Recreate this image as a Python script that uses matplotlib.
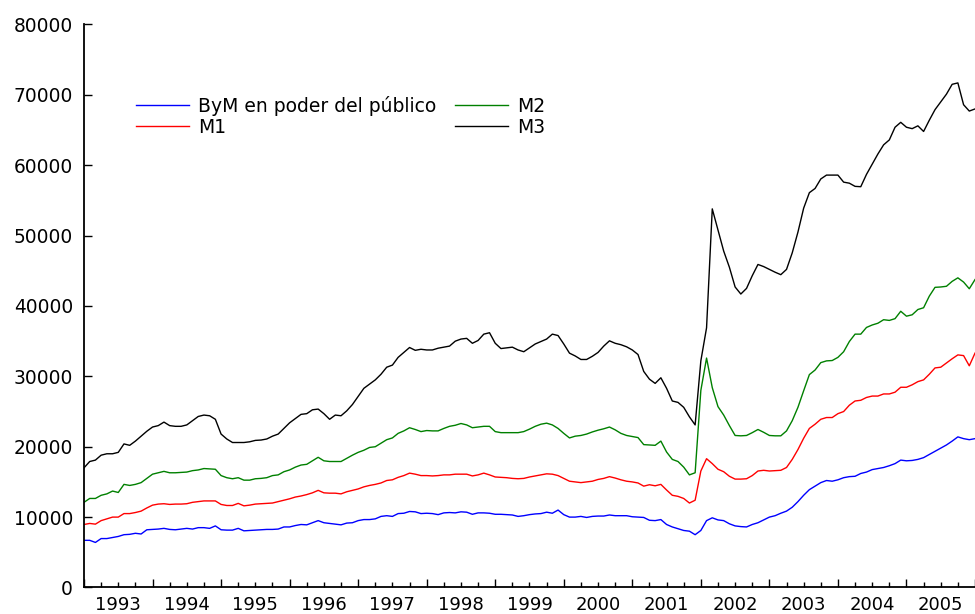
import numpy as np
import matplotlib
matplotlib.use("Agg")
import matplotlib.pyplot as plt

# Monthly series, thousands, Jan 1993 .. Jan 2006
start_year = 1993
bym = [6.7, 6.7, 6.4, 6.95, 6.95, 7.1, 7.25, 7.5, 7.55, 7.7, 7.6, 8.2, 8.25, 8.3, 8.4, 8.25, 8.2, 8.3, 8.4, 8.3,
       8.5, 8.5, 8.4, 8.75, 8.2, 8.15, 8.15, 8.4, 8.05, 8.1, 8.15, 8.2, 8.25, 8.25, 8.3, 8.6, 8.6, 8.8, 8.95,
       8.9, 9.2, 9.5, 9.2, 9.1, 9.0, 8.9, 9.15, 9.2, 9.5, 9.65, 9.65, 9.75, 10.1, 10.2, 10.1, 10.5, 10.55,
       10.8, 10.75, 10.5, 10.55, 10.5, 10.35, 10.6, 10.65, 10.6, 10.75, 10.7, 10.4, 10.6, 10.6, 10.55, 10.4,
       10.4, 10.35, 10.3, 10.1,
       10.2, 10.35, 10.45, 10.5, 10.7, 10.55, 11.0, 10.35, 10.0, 10.0, 10.1, 9.95, 10.1, 10.15, 10.15, 10.3,
       10.2, 10.2, 10.2, 10.05, 10.0, 9.95, 9.55, 9.5, 9.65, 8.95, 8.6, 8.35, 8.1, 8.0, 7.5,
       8.1, 9.5, 9.9, 9.6, 9.5, 9.05, 8.75, 8.65, 8.6, 8.95, 9.2, 9.6, 10.0, 10.2, 10.55, 10.85, 11.4, 12.2,
       13.1, 13.9, 14.4, 14.9, 15.2,
       15.1, 15.3, 15.6, 15.75, 15.8, 16.2, 16.4, 16.75, 16.9, 17.05, 17.3, 17.6, 18.1, 18.0, 18.05, 18.2,
       18.45, 18.9, 19.35, 19.8, 20.25, 20.8, 21.4, 21.15, 21.0, 21.15]

m1 = [8.95, 9.1, 9.0, 9.5, 9.75, 10.0, 10.0, 10.5, 10.5, 10.65, 10.85, 11.3, 11.7, 11.85, 11.9, 11.8, 11.85,
      11.85, 11.9, 12.1, 12.2, 12.3, 12.3, 12.3, 11.8, 11.65, 11.65, 11.95, 11.6, 11.7, 11.85, 11.9, 11.95,
      12.0, 12.2, 12.4, 12.6, 12.85, 13.0,
      13.2, 13.45, 13.8, 13.45, 13.4, 13.4, 13.3, 13.6, 13.8, 14.0, 14.3, 14.5, 14.65, 14.85, 15.2,
      15.3, 15.65, 15.9, 16.25, 16.1, 15.9, 15.9, 15.85, 15.9, 16.0, 16.0, 16.1, 16.1, 16.1, 15.85, 16.0,
      16.25, 16.0, 15.7, 15.65, 15.6, 15.5, 15.45,
      15.5, 15.7, 15.85, 16.0, 16.15, 16.1, 15.9, 15.5, 15.1, 15.0, 14.9, 15.0, 15.1, 15.35, 15.5, 15.75,
      15.55, 15.3, 15.1, 15.0, 14.85, 14.4, 14.6, 14.45, 14.65, 13.85, 13.1, 12.95, 12.65, 12.0, 12.4, 16.55,
      18.3, 17.6, 16.8, 16.45, 15.8, 15.4, 15.4,
      15.45, 15.9, 16.55, 16.65, 16.55, 16.6, 16.65, 17.05, 18.2, 19.6, 21.2, 22.6, 23.2, 23.9, 24.15, 24.15,
      24.7, 25.0, 25.9, 26.5, 26.6, 27.0, 27.2, 27.2, 27.5, 27.5, 27.75, 28.45, 28.45, 28.8, 29.25, 29.5,
      30.3, 31.2, 31.3, 31.9, 32.5, 33.05, 32.95, 31.5, 33.3]

m2 = [12.1, 12.65, 12.65, 13.1, 13.3, 13.7, 13.5, 14.65, 14.5, 14.65, 14.9, 15.5, 16.1, 16.3, 16.5, 16.3,
      16.3, 16.35, 16.4, 16.6, 16.7, 16.9, 16.85, 16.8, 15.9, 15.6, 15.45, 15.6, 15.25, 15.25, 15.45, 15.5,
      15.6, 15.9, 16.0, 16.45, 16.7, 17.1, 17.4,
      17.5, 18.0, 18.5, 18.0, 17.9, 17.9, 17.9, 18.35, 18.8, 19.2, 19.5, 19.9, 20.0, 20.5, 21.0, 21.25, 21.9,
      22.25, 22.7, 22.45, 22.15, 22.3, 22.25, 22.25, 22.6, 22.9, 23.05, 23.3, 23.1, 22.7, 22.8, 22.9, 22.9,
      22.15, 22.0, 22.0, 22.0, 22.0,
      22.15, 22.5, 22.9, 23.2, 23.35, 23.1, 22.6, 21.9, 21.25, 21.5, 21.6, 21.8, 22.1, 22.35, 22.55, 22.8,
      22.4, 21.9, 21.6, 21.45, 21.3, 20.3, 20.25, 20.2, 20.8, 19.25, 18.2, 17.9, 17.1, 16.0, 16.3, 28.0, 32.6,
      28.4, 25.7, 24.5, 23.0, 21.6, 21.55,
      21.6, 22.0, 22.45, 22.05, 21.6, 21.55, 21.55, 22.25, 23.7, 25.6, 27.95, 30.25, 30.9, 31.95, 32.2, 32.25,
      32.7, 33.5, 34.95, 36.0, 36.0, 36.95, 37.3, 37.55, 38.05, 37.95, 38.2, 39.25, 38.55, 38.75, 39.5, 39.75,
      41.4, 42.65, 42.7, 42.8, 43.5, 44.0, 43.4, 42.45, 43.75]

m3 = [17.0, 17.9, 18.1, 18.8, 19.0, 19.0, 19.2, 20.4, 20.2, 20.8, 21.5, 22.2, 22.8, 23.0, 23.5, 23.0, 22.9,
      22.9, 23.1, 23.7, 24.3, 24.5, 24.4, 23.9, 21.8, 21.1, 20.6, 20.6, 20.6, 20.7, 20.9, 20.95, 21.1, 21.5,
      21.8, 22.6, 23.4, 24.0, 24.6,
      24.7, 25.25, 25.35, 24.7, 23.9, 24.5, 24.4, 25.1, 26.0, 27.15, 28.3, 28.9, 29.5, 30.3, 31.3, 31.6, 32.7,
      33.4, 34.1, 33.7, 33.85, 33.75, 33.75, 34.0, 34.15, 34.3, 35.0, 35.3, 35.4, 34.7, 35.1, 36.0, 36.2,
      34.7, 33.95, 34.05, 34.15, 33.75,
      33.5, 34.05, 34.6, 34.95, 35.3, 36.0, 35.8, 34.6, 33.3, 32.9, 32.4, 32.4, 32.85, 33.4, 34.3, 35.05,
      34.7, 34.5, 34.2, 33.75, 33.1, 30.7, 29.6, 29.0, 29.8, 28.3, 26.5, 26.3, 25.6, 24.25, 23.1, 32.2, 36.9,
      53.8, 50.8, 47.8, 45.5, 42.7, 41.7,
      42.5, 44.3, 45.9, 45.6, 45.2, 44.8, 44.45, 45.2, 47.55, 50.5, 53.9, 56.1, 56.7, 58.05, 58.6, 58.6, 58.6,
      57.6, 57.45, 57.0, 56.95, 58.7, 60.15, 61.6, 62.9, 63.6, 65.4, 66.1, 65.4, 65.2, 65.6, 64.8, 66.4, 67.9,
      69.0, 70.1, 71.5, 71.7, 68.6, 67.7, 68.0]

series_names = ["ByM en poder del público", "M1", "M2", "M3"]
y_ticks = [0, 10000, 20000, 30000, 40000, 50000, 60000, 70000, 80000]

plt.rcParams["font.family"] = ["DejaVu Sans"]

fig = plt.figure(figsize=(9.75, 6.14), dpi=100)
ax = fig.add_axes([0.08615, 0.0432, 0.91385, 0.9169])

colors = ["#0000ff", "#ff0000", "#008000", "#000000"]
for vals, name, c in zip([bym, m1, m2, m3], series_names, colors):
    xv = start_year + np.arange(len(vals)) / 12.0
    ax.plot(xv, np.array(vals) * 1000, color=c, lw=1.0, label=name)

ax.set_xlim(1993, 2006)
ax.set_ylim(0, 80000)

ax.spines["top"].set_visible(False)
ax.spines["right"].set_visible(False)
ax.spines["left"].set_linewidth(1.3)
ax.spines["bottom"].set_linewidth(1.3)

ax.set_yticks(y_ticks)
ax.set_yticklabels([str(v) for v in y_ticks])
ax.tick_params(axis="y", direction="in", length=6, width=1, pad=8, labelsize=13.4)

years = np.arange(1993, 2007)
ax.set_xticks(years)
ax.set_xticklabels([""] * len(years))
quarters = [y + q for y in range(1993, 2006) for q in (0.25, 0.5, 0.75)]
qlabels = []
for y in range(1993, 2006):
    qlabels += ["", str(y), ""]
ax.set_xticks(quarters, minor=True)
ax.set_xticklabels(qlabels, minor=True)
ax.tick_params(axis="x", which="major", direction="in", length=5.5, width=1)
ax.tick_params(axis="x", which="minor", direction="in", length=3.8, width=1, pad=6, labelsize=13)

leg = ax.legend(ncol=2, loc="center left", bbox_to_anchor=(0.1395, 0.8105),
                bbox_transform=fig.transFigure, frameon=False, fontsize=13.5,
                handlelength=2.85, handletextpad=0.45, columnspacing=1.0,
                labelspacing=0.1, borderpad=0, borderaxespad=0)

fig.savefig("out.png", dpi=100)
